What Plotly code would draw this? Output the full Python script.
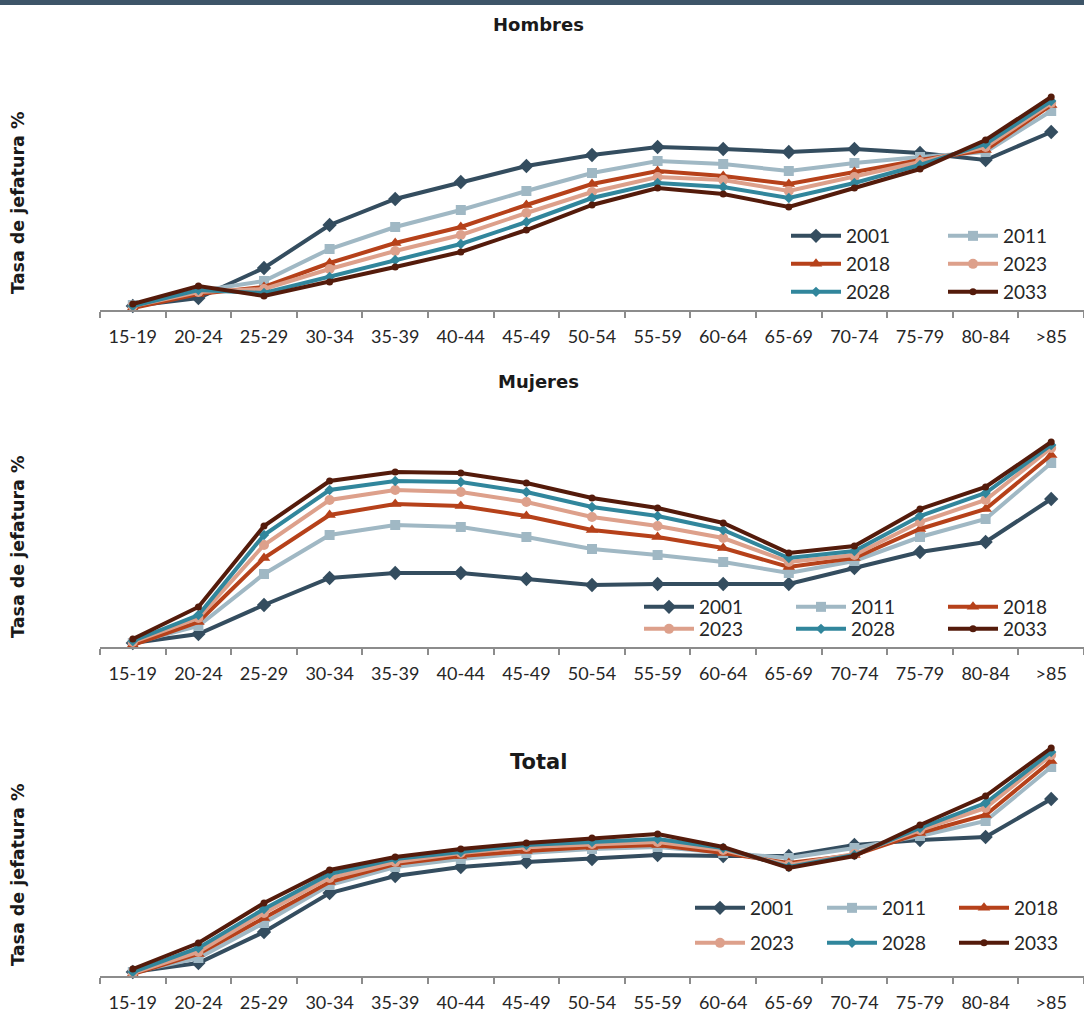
import plotly.graph_objects as go

# ---------------- data ----------------
age_groups = ["15-19", "20-24", "25-29", "30-34", "35-39", "40-44", "45-49",
              "50-54", "55-59", "60-64", "65-69", "70-74", "75-79", "80-84", ">85"]
years = ["2001", "2011", "2018", "2023", "2028", "2033"]

hombres_2001 = [1.6, 4.8, 16.8, 34.0, 44.4, 51.2, 57.6, 62.0, 65.2, 64.4, 63.2, 64.4, 62.8, 60.0, 71.2]
hombres_2011 = [2.0, 7.6, 11.6, 24.4, 33.2, 40.0, 47.6, 54.8, 59.6, 58.4, 55.6, 58.8, 61.2, 63.2, 79.6]
hombres_2018 = [0.8, 6.4, 9.2, 18.8, 26.8, 33.2, 42.0, 50.4, 55.6, 53.6, 50.4, 55.2, 60.0, 64.0, 82.0]
hombres_2023 = [1.6, 7.2, 8.4, 16.4, 23.6, 30.0, 38.8, 47.2, 53.2, 52.0, 47.6, 53.2, 59.2, 65.2, 82.8]
hombres_2028 = [1.6, 8.0, 6.8, 13.2, 20.0, 26.4, 35.2, 44.8, 50.8, 49.2, 44.8, 50.8, 58.0, 66.4, 83.6]
hombres_2033 = [2.4, 9.6, 5.6, 11.2, 17.2, 23.2, 32.0, 42.0, 48.8, 46.4, 41.2, 48.8, 56.4, 68.0, 85.2]

mujeres_2001 = [1.2, 3.9, 12.6, 20.7, 22.2, 22.2, 20.4, 18.6, 18.9, 18.9, 18.9, 23.7, 28.5, 31.5, 44.4]
mujeres_2011 = [1.2, 6.3, 21.9, 33.6, 36.6, 36.0, 33.0, 29.4, 27.6, 25.5, 22.2, 25.8, 33.0, 38.4, 55.2]
mujeres_2018 = [0.6, 7.5, 26.7, 39.6, 42.9, 42.3, 39.3, 35.1, 33.0, 29.7, 24.0, 26.7, 35.4, 41.4, 57.6]
mujeres_2023 = [1.5, 8.7, 30.6, 44.1, 47.1, 46.5, 43.5, 39.0, 36.3, 32.7, 25.5, 27.6, 37.5, 44.1, 59.7]
mujeres_2028 = [1.8, 9.6, 33.6, 47.1, 49.8, 49.5, 46.5, 42.0, 39.3, 35.1, 26.7, 28.8, 39.3, 46.2, 60.6]
mujeres_2033 = [2.4, 12.0, 36.3, 49.8, 52.5, 52.2, 49.2, 44.7, 41.7, 37.2, 28.2, 30.3, 41.4, 48.0, 61.5]

total_2001 = [1.2, 3.9, 13.2, 24.9, 30.0, 32.7, 34.2, 35.1, 36.3, 36.0, 36.0, 39.3, 40.8, 41.7, 53.1]
total_2011 = [1.2, 5.4, 15.9, 27.3, 32.7, 35.1, 36.9, 38.1, 38.7, 36.9, 35.4, 38.4, 42.0, 46.5, 62.7]
total_2018 = [0.6, 6.6, 17.4, 28.2, 33.6, 36.0, 37.5, 38.7, 39.3, 36.9, 33.9, 36.3, 42.9, 48.3, 64.5]
total_2023 = [0.9, 7.2, 18.9, 29.4, 34.2, 36.9, 38.7, 39.6, 40.2, 37.8, 33.3, 36.6, 43.8, 50.4, 66.3]
total_2028 = [1.2, 8.4, 20.1, 30.6, 35.1, 37.2, 39.3, 40.2, 41.1, 38.4, 32.7, 36.3, 44.4, 51.9, 67.2]
total_2033 = [2.1, 9.9, 21.9, 31.8, 35.7, 38.1, 39.9, 41.4, 42.6, 38.7, 32.4, 36.0, 45.3, 54.0, 68.4]

panel_titles = ["Hombres", "Mujeres", "Total"]
y_title = "Tasa de jefatura %"

# ---------------- styles ----------------
colors = {"2001": "#344d5f", "2011": "#a0b8c4", "2018": "#b6411a",
          "2023": "#dda08b", "2028": "#31869c", "2033": "#541b0b"}
symbols = {"2001": "diamond", "2011": "square", "2018": "triangle-up",
           "2023": "circle", "2028": "diamond", "2033": "circle"}
msizes = {"2001": 11, "2011": 10, "2018": 11, "2023": 10, "2028": 8, "2033": 7}

FONT = "Lato, Open Sans, sans-serif"
BOLD_FONT = "DejaVu Sans, Verdana, sans-serif"

W, H = 1084, 1012
ML = 100
PW = W - ML
ITEM_W = 50

def px_x(x):
    return (x - ML) / PW

def px_y(y):
    return (H - y) / H

panels = [
    dict(series=[hombres_2001, hombres_2011, hombres_2018, hombres_2023, hombres_2028, hombres_2033],
         bottom=310, top=60, scale=0.4, title_y=25, title_size=18, ytitle_y=203,
         legends=[(["2001", "2011"], 236), (["2018", "2023"], 264), (["2028", "2033"], 292)],
         leg_x=786, entry=92),
    dict(series=[mujeres_2001, mujeres_2011, mujeres_2018, mujeres_2023, mujeres_2028, mujeres_2033],
         bottom=647, top=420, scale=0.3, title_y=381, title_size=18, ytitle_y=547,
         legends=[(["2001", "2011", "2018"], 607), (["2023", "2028", "2033"], 629)],
         leg_x=639, entry=87),
    dict(series=[total_2001, total_2011, total_2018, total_2023, total_2028, total_2033],
         bottom=976, top=720, scale=0.3, title_y=762, title_size=21, ytitle_y=875,
         legends=[(["2001", "2011", "2018"], 908), (["2023", "2028", "2033"], 943)],
         leg_x=690, entry=67),
]

fig = go.Figure()
layout = dict(
    width=W, height=H,
    margin=dict(l=ML, r=0, t=0, b=0, autoexpand=False),
    paper_bgcolor="white", plot_bgcolor="white",
    font=dict(family=FONT, color="#262626"),
    annotations=[], shapes=[],
)

legend_idx = 0
for i, p in enumerate(panels):
    n = "" if i == 0 else str(i + 1)
    year_to_legend = {}
    for yrs, ypix in p["legends"]:
        legend_idx += 1
        lid = "legend" if legend_idx == 1 else f"legend{legend_idx}"
        for yr in yrs:
            year_to_legend[yr] = lid
        layout[lid] = dict(
            orientation="h", x=px_x(p["leg_x"]), xanchor="left",
            y=px_y(ypix), yanchor="middle",
            bgcolor="rgba(0,0,0,0)", borderwidth=0,
            entrywidth=p["entry"], entrywidthmode="pixels", itemwidth=ITEM_W,
            font=dict(size=19, family=FONT, color="#262626"),
            traceorder="normal",
        )
    for yr, vals in zip(years, p["series"]):
        fig.add_trace(go.Scatter(
            x=age_groups, y=vals, name=yr, mode="lines+markers",
            xaxis="x" + n, yaxis="y" + n,
            line=dict(color=colors[yr], width=4),
            marker=dict(symbol=symbols[yr], size=msizes[yr], color=colors[yr]),
            cliponaxis=False, legend=year_to_legend[yr], showlegend=True,
        ))
    plot_h = p["bottom"] - p["top"]
    layout["xaxis" + n] = dict(
        type="category", domain=[0, 1], anchor="y" + n,
        categoryorder="array", categoryarray=age_groups,
        range=[-0.5, len(age_groups) - 0.5], autorange=False,
        tickson="boundaries", ticks="outside", ticklen=6, tickwidth=1.5,
        tickcolor="#8c8c8c", showline=True, linecolor="#8c8c8c", linewidth=2,
        showgrid=False, zeroline=False, ticklabelstandoff=9,
        tickfont=dict(size=18, family=FONT, color="#262626"),
    )
    layout["yaxis" + n] = dict(
        domain=[px_y(p["bottom"]), px_y(p["top"])], anchor="x" + n,
        range=[0, plot_h * p["scale"]], autorange=False,
        showticklabels=False, ticks="",
        showgrid=False, zeroline=False, showline=False,
    )
    layout["annotations"].append(dict(
        text=f"<b>{panel_titles[i]}</b>", xref="paper", yref="paper",
        x=px_x(538), y=px_y(p["title_y"]), xanchor="center", yanchor="middle",
        showarrow=False, font=dict(size=p["title_size"], family=BOLD_FONT, color="#1a1a1a"),
    ))
    layout["annotations"].append(dict(
        text=f"<b>{y_title}</b>", xref="paper", yref="paper", textangle=-90,
        x=px_x(18), y=px_y(p["ytitle_y"]), xanchor="center", yanchor="middle",
        showarrow=False, font=dict(size=17.5, family=BOLD_FONT, color="#1a1a1a"),
    ))

layout["shapes"].append(dict(
    type="line", xref="paper", yref="paper", x0=px_x(0), x1=1,
    y0=px_y(2.5), y1=px_y(2.5), line=dict(color="#3d5568", width=5),
))

fig.update_layout(**layout)
fig.write_html("out.html", config={"displayModeBar": False},
               post_script="document.body.style.margin='0px';document.body.style.padding='0px';")
